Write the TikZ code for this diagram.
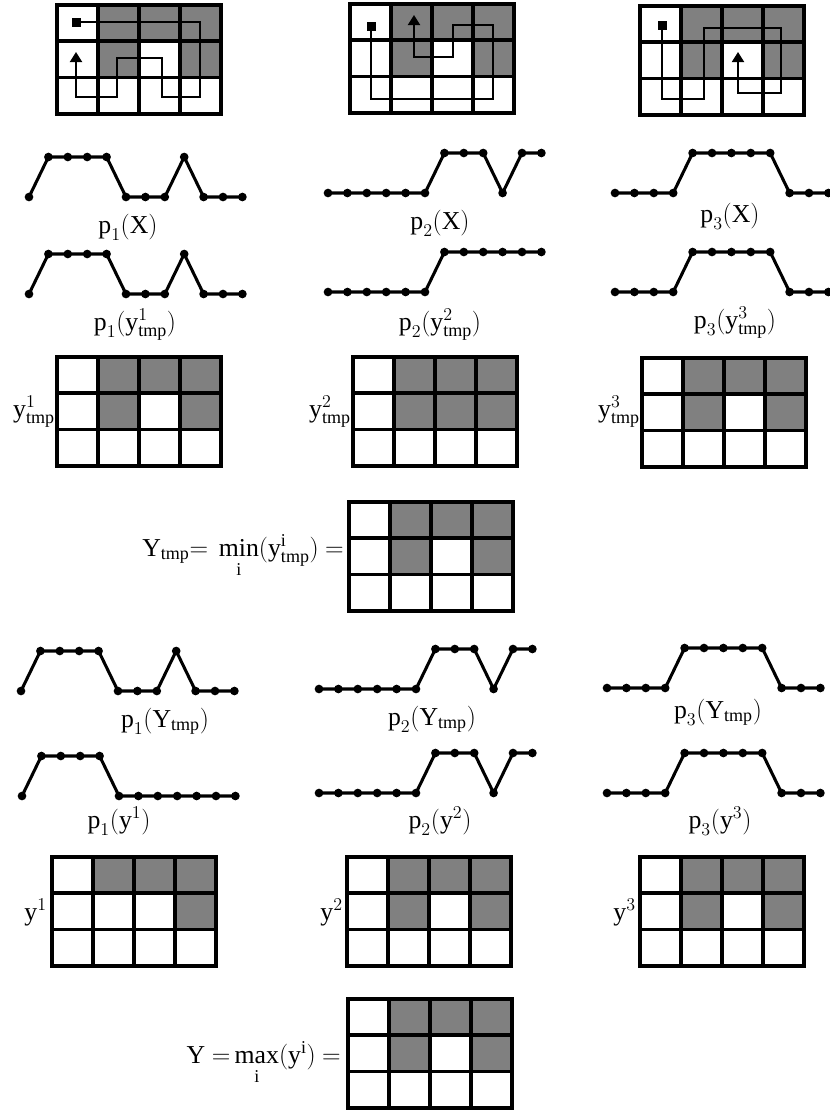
\documentclass[tikz,border=0pt]{standalone}
\usepackage{fix-cm}
\usepackage{fontspec}
\setmainfont{Liberation Serif}
\usepackage{tikz}
\usetikzlibrary{arrows.meta,calc}
\definecolor{cellgray}{HTML}{808080}
\tikzset{
  gridline/.style={line width=3.2pt},
  cellfill/.style={fill=cellgray},
  profline/.style={line width=2.6pt, line join=round, line cap=round},
  route/.style={line width=1.6pt},
  routeend/.style={route, -{Triangle[length=0.3cm, width=0.36cm]}},
  startsq/.style={rectangle, fill=black, minimum size=0.27cm, inner sep=0pt},
  lbl/.style={font=\fontsize{22}{26}\selectfont, inner sep=0pt},
}
\newcommand{\cellw}{41}
\newcommand{\cellh}{36.3}
% p with a low index
\newcommand{\pp}[1]{\mathrm{p}_{\lower3pt\hbox{$\scriptstyle #1$}}}
% index under min / max
\newcommand{\under}{\rule{0pt}{15pt}\mathrm{i}}
% 3x4 grid, top-left corner at (#1,#2), gray cells as col/row
\newcommand{\cellgrid}[3]{%
  \begin{scope}[shift={(#1,#2)}]
    \foreach \cx/\ry in {#3}
      \fill[cellfill] ({(\cx-1)*\cellw},{(\ry-1)*\cellh}) rectangle ++(\cellw,\cellh);
    \foreach \cx in {1,2,3}
      \draw[gridline] ({\cx*\cellw},0) -- ++(0,{3*\cellh});
    \foreach \ry in {1,2}
      \draw[gridline] (0,{\ry*\cellh}) -- ++({4*\cellw},0);
    \draw[gridline] (0,0) rectangle ({4*\cellw},{3*\cellh});
  \end{scope}}
% profile: name, first x, low y, values 0/1
\newcommand{\profile}[4]{%
  \foreach \v [count=\i from 0] in {#4}
    \coordinate (#1-\i) at ({#2+\i*19.4},{#3-40*\v});
  \draw[profline] (#1-0) \foreach \i in {1,...,11}{-- (#1-\i)};
  \foreach \i in {0,...,11} \fill (#1-\i) circle[radius=0.13cm];}

\begin{document}
\begin{tikzpicture}[x=0.03cm, y=-0.03cm]
\useasboundingbox (0,0) rectangle (829,1111);

% top: grids with routes
\cellgrid{57}{5}{2/1,3/1,4/1,2/2,4/2}
\cellgrid{350}{4}{2/1,3/1,4/1,2/2,4/2}
\cellgrid{640}{6}{2/1,3/1,4/1,2/2,4/2}
\node[startsq] (s1) at (76,22) {};
\coordinate (e1) at (76,52);
\draw[routeend] (s1.center) -| (200,97) -| (162,58) -| (117,97) -| (e1);
\node[startsq] (s2) at (371,26) {};
\coordinate (e2) at (414,15);
\draw[routeend] (s2.center) |- (493,99) |- (453,25) |- (414,57) -- (e2);
\node[startsq] (s3) at (662,25) {};
\coordinate (e3) at (738,52);
\draw[routeend] (s3.center) |- (704,99) |- (781,28) |- (738,93) -- (e3);

% p_i(X)
\profile{pa}{29}{197}{0,1,1,1,1,0,0,0,1,0,0,0}
\profile{pb}{328}{193}{0,0,0,0,0,0,1,1,1,0,1,1}
\profile{pc}{615}{193}{0,0,0,0,1,1,1,1,1,0,0,0}
\node[lbl, anchor=base] (lpa) at (128,233) {$\pp1(\mathrm{X})$};
\node[lbl, anchor=base] (lpb) at (440,229) {$\pp2(\mathrm{X})$};
\node[lbl, anchor=base] (lpc) at (730,222) {$\pp3(\mathrm{X})$};

% p_i(y_tmp^i)
\profile{qa}{29}{294}{0,1,1,1,1,0,0,0,1,0,0,0}
\profile{qb}{328}{292}{0,0,0,0,0,0,1,1,1,1,1,1}
\profile{qc}{615}{292}{0,0,0,0,1,1,1,1,1,0,0,0}
\node[lbl, anchor=base] (lqa) at (135,330) {$\pp1(\mathrm{y}^1_{\mathrm{tmp}})$};
\node[lbl, anchor=base] (lqb) at (440,330) {$\pp2(\mathrm{y}^2_{\mathrm{tmp}})$};
\node[lbl, anchor=base] (lqc) at (735,328) {$\pp3(\mathrm{y}^3_{\mathrm{tmp}})$};

% y_tmp^i grids
\cellgrid{57}{357}{2/1,3/1,4/1,2/2,4/2}
\cellgrid{353}{357}{2/1,3/1,4/1,2/2,3/2,4/2}
\cellgrid{642}{358}{2/1,3/1,4/1,2/2,4/2}
\node[lbl, anchor=base east] (lya) at (55,417) {$\mathrm{y}^1_{\mathrm{tmp}}$};
\node[lbl, anchor=base east] (lyb) at (351,417) {$\mathrm{y}^2_{\mathrm{tmp}}$};
\node[lbl, anchor=base east] (lyc) at (640,417) {$\mathrm{y}^3_{\mathrm{tmp}}$};

% Y_tmp = min
\cellgrid{349}{502}{2/1,3/1,4/1,2/2,4/2}
\node[lbl, anchor=base east] (lmin) at (344,556)
  {$\mathrm{Y}_{\mathrm{tmp}}\mathord{=}\ \min\limits_{\under}(\mathrm{y}^{\mathrm{i}}_{\mathrm{tmp}})\ \mathord{=}$};

% p_i(Y_tmp)
\profile{ra}{21}{691}{0,1,1,1,1,0,0,0,1,0,0,0}
\profile{rb}{319}{689}{0,0,0,0,0,0,1,1,1,0,1,1}
\profile{rc}{607}{688}{0,0,0,0,1,1,1,1,1,0,0,0}
\node[lbl, anchor=base] (lra) at (165,727) {$\pp1(\mathrm{Y}_{\mathrm{tmp}})$};
\node[lbl, anchor=base] (lrb) at (432,725) {$\pp2(\mathrm{Y}_{\mathrm{tmp}})$};
\node[lbl, anchor=base] (lrc) at (718,718) {$\pp3(\mathrm{Y}_{\mathrm{tmp}})$};

% p_i(y^i)
\profile{ua}{22}{796}{0,1,1,1,1,0,0,0,0,0,0,0}
\profile{ub}{319}{793}{0,0,0,0,0,0,1,1,1,0,1,1}
\profile{uc}{607}{793}{0,0,0,0,1,1,1,1,1,0,0,0}
\node[lbl, anchor=base] (lua) at (119,828) {$\pp1(\mathrm{y}^1)$};
\node[lbl, anchor=base] (lub) at (440,828) {$\pp2(\mathrm{y}^2)$};
\node[lbl, anchor=base] (luc) at (720,828) {$\pp3(\mathrm{y}^3)$};

% y^i grids
\cellgrid{52}{857}{2/1,3/1,4/1,4/2}
\cellgrid{347}{857}{2/1,3/1,4/1,2/2,4/2}
\cellgrid{640}{857}{2/1,3/1,4/1,2/2,4/2}
\node[lbl, anchor=base east] (lva) at (47,920) {$\mathrm{y}^1$};
\node[lbl, anchor=base east] (lvb) at (343,920) {$\mathrm{y}^2$};
\node[lbl, anchor=base east] (lvc) at (636,920) {$\mathrm{y}^3$};

% Y = max
\cellgrid{348}{999}{2/1,3/1,4/1,2/2,4/2}
\node[lbl, anchor=base east] (lmax) at (341,1063)
  {$\mathrm{Y}\ \mathord{=}\max\limits_{\under}(\mathrm{y}^{\mathrm{i}})\ \mathord{=}$};
\end{tikzpicture}
\end{document}
